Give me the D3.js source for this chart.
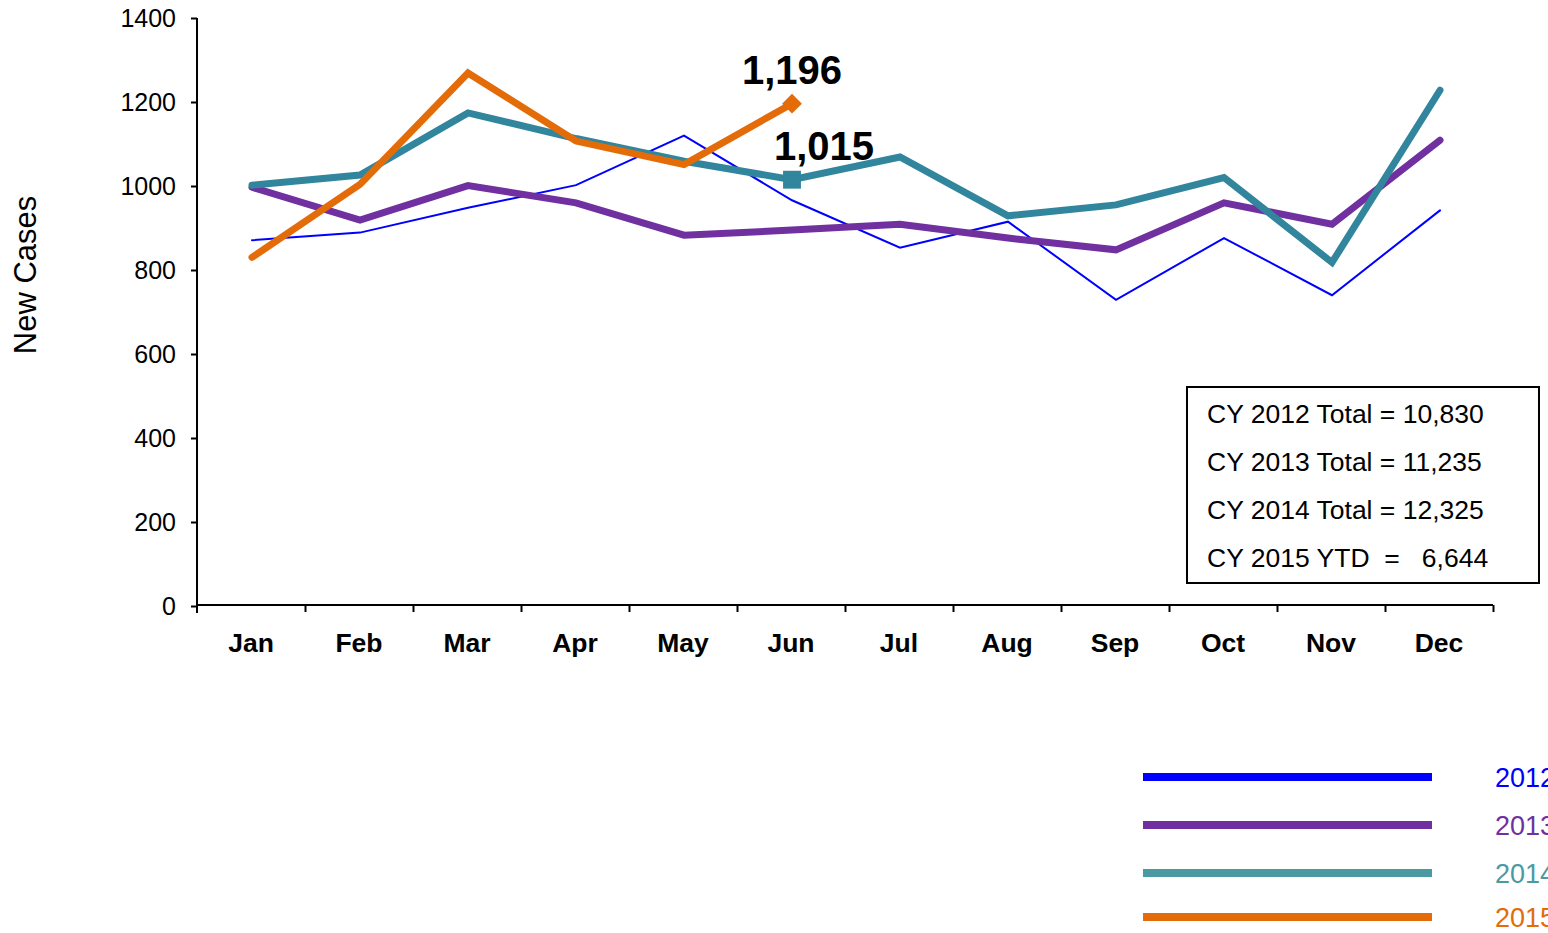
<!DOCTYPE html>
<html>
  <head>
    <title>New Cases</title>
    <script src="https://cdn.jsdelivr.net/npm/d3@7"></script>
    <style>
      body { margin: 0; background: #fff; }
      text { font-family: "Liberation Sans", Arial, sans-serif; }
    </style>
  </head>
  <body>
    <svg width="1548" height="933" id="mainsvg"></svg>
    <script>
      const months = ["Jan", "Feb", "Mar", "Apr", "May", "Jun", "Jul", "Aug", "Sep", "Oct", "Nov", "Dec"];
      const cases2012 = [871, 889, 948, 1002, 1120, 966, 853, 915, 729, 876, 740, 942];
      const cases2013 = [997, 919, 1001, 960, 883, 895, 909, 876, 848, 960, 909, 1109];
      const cases2014 = [1002, 1026, 1174, 1113, 1059, 1015, 1069, 929, 955, 1020, 818, 1228];
      const cases2015 = [830, 1004, 1269, 1107, 1051, 1196];
      const yTicks = [0, 200, 400, 600, 800, 1000, 1200, 1400];
      const years = ["2012", "2013", "2014", "2015"];
      const totals = ["CY 2012 Total = 10,830", "CY 2013 Total = 11,235", "CY 2014 Total = 12,325", "CY 2015 YTD  =   6,644"];

      const series = [
        { year: "2012", values: cases2012, color: "#0000ff", legend: "#0000ff", width: 2 },
        { year: "2013", values: cases2013, color: "#7030a0", legend: "#7030a0", width: 7 },
        { year: "2014", values: cases2014, color: "#31859c", legend: "#4a9aa2", width: 7 },
        { year: "2015", values: cases2015, color: "#e36c09", legend: "#e36c09", width: 7 },
      ];

      const svg = d3.select("#mainsvg");
      const margin = { top: 18, left: 197 };
      const innerWidth = 1296;
      const innerHeight = 588;

      const g = svg.append("g")
        .attr("transform", `translate(${margin.left}, ${margin.top})`);

      const xScale = d3.scaleBand().domain(months).range([0, innerWidth]);
      const xEdge = d3.scaleLinear().domain([0, 12]).range([0, innerWidth]);
      const yScale = d3.scaleLinear().domain([0, 1400]).range([innerHeight, 0]);

      // y axis
      const yAxis = g.append("g")
        .call(d3.axisLeft(yScale).tickValues(yTicks).tickFormat(d3.format("d")).tickSize(6).tickPadding(15));
      yAxis.select(".domain").attr("stroke", "#000").attr("stroke-width", 2)
        .attr("d", `M0,0V${innerHeight + 7}`);
      yAxis.selectAll(".tick line").attr("stroke-width", 2);
      yAxis.selectAll(".tick text").attr("font-size", "25px").attr("fill", "#000")
        .attr("font-family", "Liberation Sans, Arial, sans-serif");

      // x axis: ticks at category edges, labels centred
      const xTickAxis = g.append("g")
        .attr("transform", `translate(0, ${innerHeight - 1})`)
        .call(d3.axisBottom(xEdge).ticks(12).tickSize(7).tickFormat(""));
      xTickAxis.select(".domain").attr("stroke-width", 2).attr("d", `M0,0H${innerWidth}`);
      xTickAxis.selectAll(".tick line").attr("stroke-width", 2);
      xTickAxis.selectAll(".tick text").remove();
      xTickAxis.selectAll(".tick").filter((d) => d === 0).remove();

      const xLabelAxis = g.append("g")
        .attr("transform", `translate(0, ${innerHeight - 1})`)
        .call(d3.axisBottom(xScale).tickSize(0).tickPadding(28));
      xLabelAxis.select(".domain").remove();
      xLabelAxis.selectAll(".tick text").attr("font-size", "26.5px").attr("font-weight", "bold")
        .attr("fill", "#000").attr("font-family", "Liberation Sans, Arial, sans-serif");

      svg.append("text")
        .text("New Cases")
        .attr("transform", "translate(36, 275) rotate(-90)")
        .attr("text-anchor", "middle")
        .attr("font-size", "31px")
        .attr("fill", "#000");

      // lines
      const line = d3.line()
        .x((d, i) => xScale(months[i]) + xScale.bandwidth() / 2 + 1)
        .y((d) => yScale(d));

      series.forEach((s) => {
        g.append("path")
          .datum(s.values)
          .attr("d", line)
          .attr("fill", "none")
          .attr("stroke", s.color)
          .attr("stroke-width", s.width)
          .attr("stroke-linecap", "round")
          .attr("stroke-linejoin", "miter");
      });

      // June markers and labels
      const junX = xScale("Jun") + xScale.bandwidth() / 2 + 1;
      g.append("path")
        .attr("d", d3.symbol().type(d3.symbolSquare).size(320)())
        .attr("transform", `translate(${junX}, ${yScale(cases2014[5])})`)
        .attr("fill", "#31859c");
      g.append("path")
        .attr("d", d3.symbol().type(d3.symbolDiamond2).size(250)())
        .attr("transform", `translate(${junX}, ${yScale(cases2015[5])})`)
        .attr("fill", "#e36c09");

      g.append("text")
        .text(d3.format(",")(cases2015[5]))
        .attr("x", junX)
        .attr("y", yScale(cases2015[5]) - 20)
        .attr("text-anchor", "middle")
        .attr("font-size", "40px")
        .attr("font-weight", "bold");
      g.append("text")
        .text(d3.format(",")(cases2014[5]))
        .attr("x", junX + 32)
        .attr("y", yScale(cases2014[5]) - 20)
        .attr("text-anchor", "middle")
        .attr("font-size", "40px")
        .attr("font-weight", "bold");

      // totals box
      svg.append("rect")
        .attr("x", 1187).attr("y", 387)
        .attr("width", 352).attr("height", 196)
        .attr("fill", "#fff").attr("stroke", "#000").attr("stroke-width", 2);
      totals.forEach((t, i) => {
        svg.append("text")
          .text(t)
          .attr("x", 1207)
          .attr("y", 423 + i * 48)
          .attr("font-size", "26.5px")
          .style("white-space", "pre")
          .attr("fill", "#000");
      });

      // legend (labels run off the right edge, as in the original)
      const legendY = [777, 825, 873, 917];
      series.forEach((s, i) => {
        svg.append("line")
          .attr("x1", 1143).attr("x2", 1432)
          .attr("y1", legendY[i]).attr("y2", legendY[i])
          .attr("stroke", s.legend).attr("stroke-width", 8);
        svg.append("text")
          .text(years[i])
          .attr("x", 1495)
          .attr("y", legendY[i] + 10)
          .attr("font-size", "27px")
          .attr("fill", s.legend);
      });
    </script>
  </body>
</html>
